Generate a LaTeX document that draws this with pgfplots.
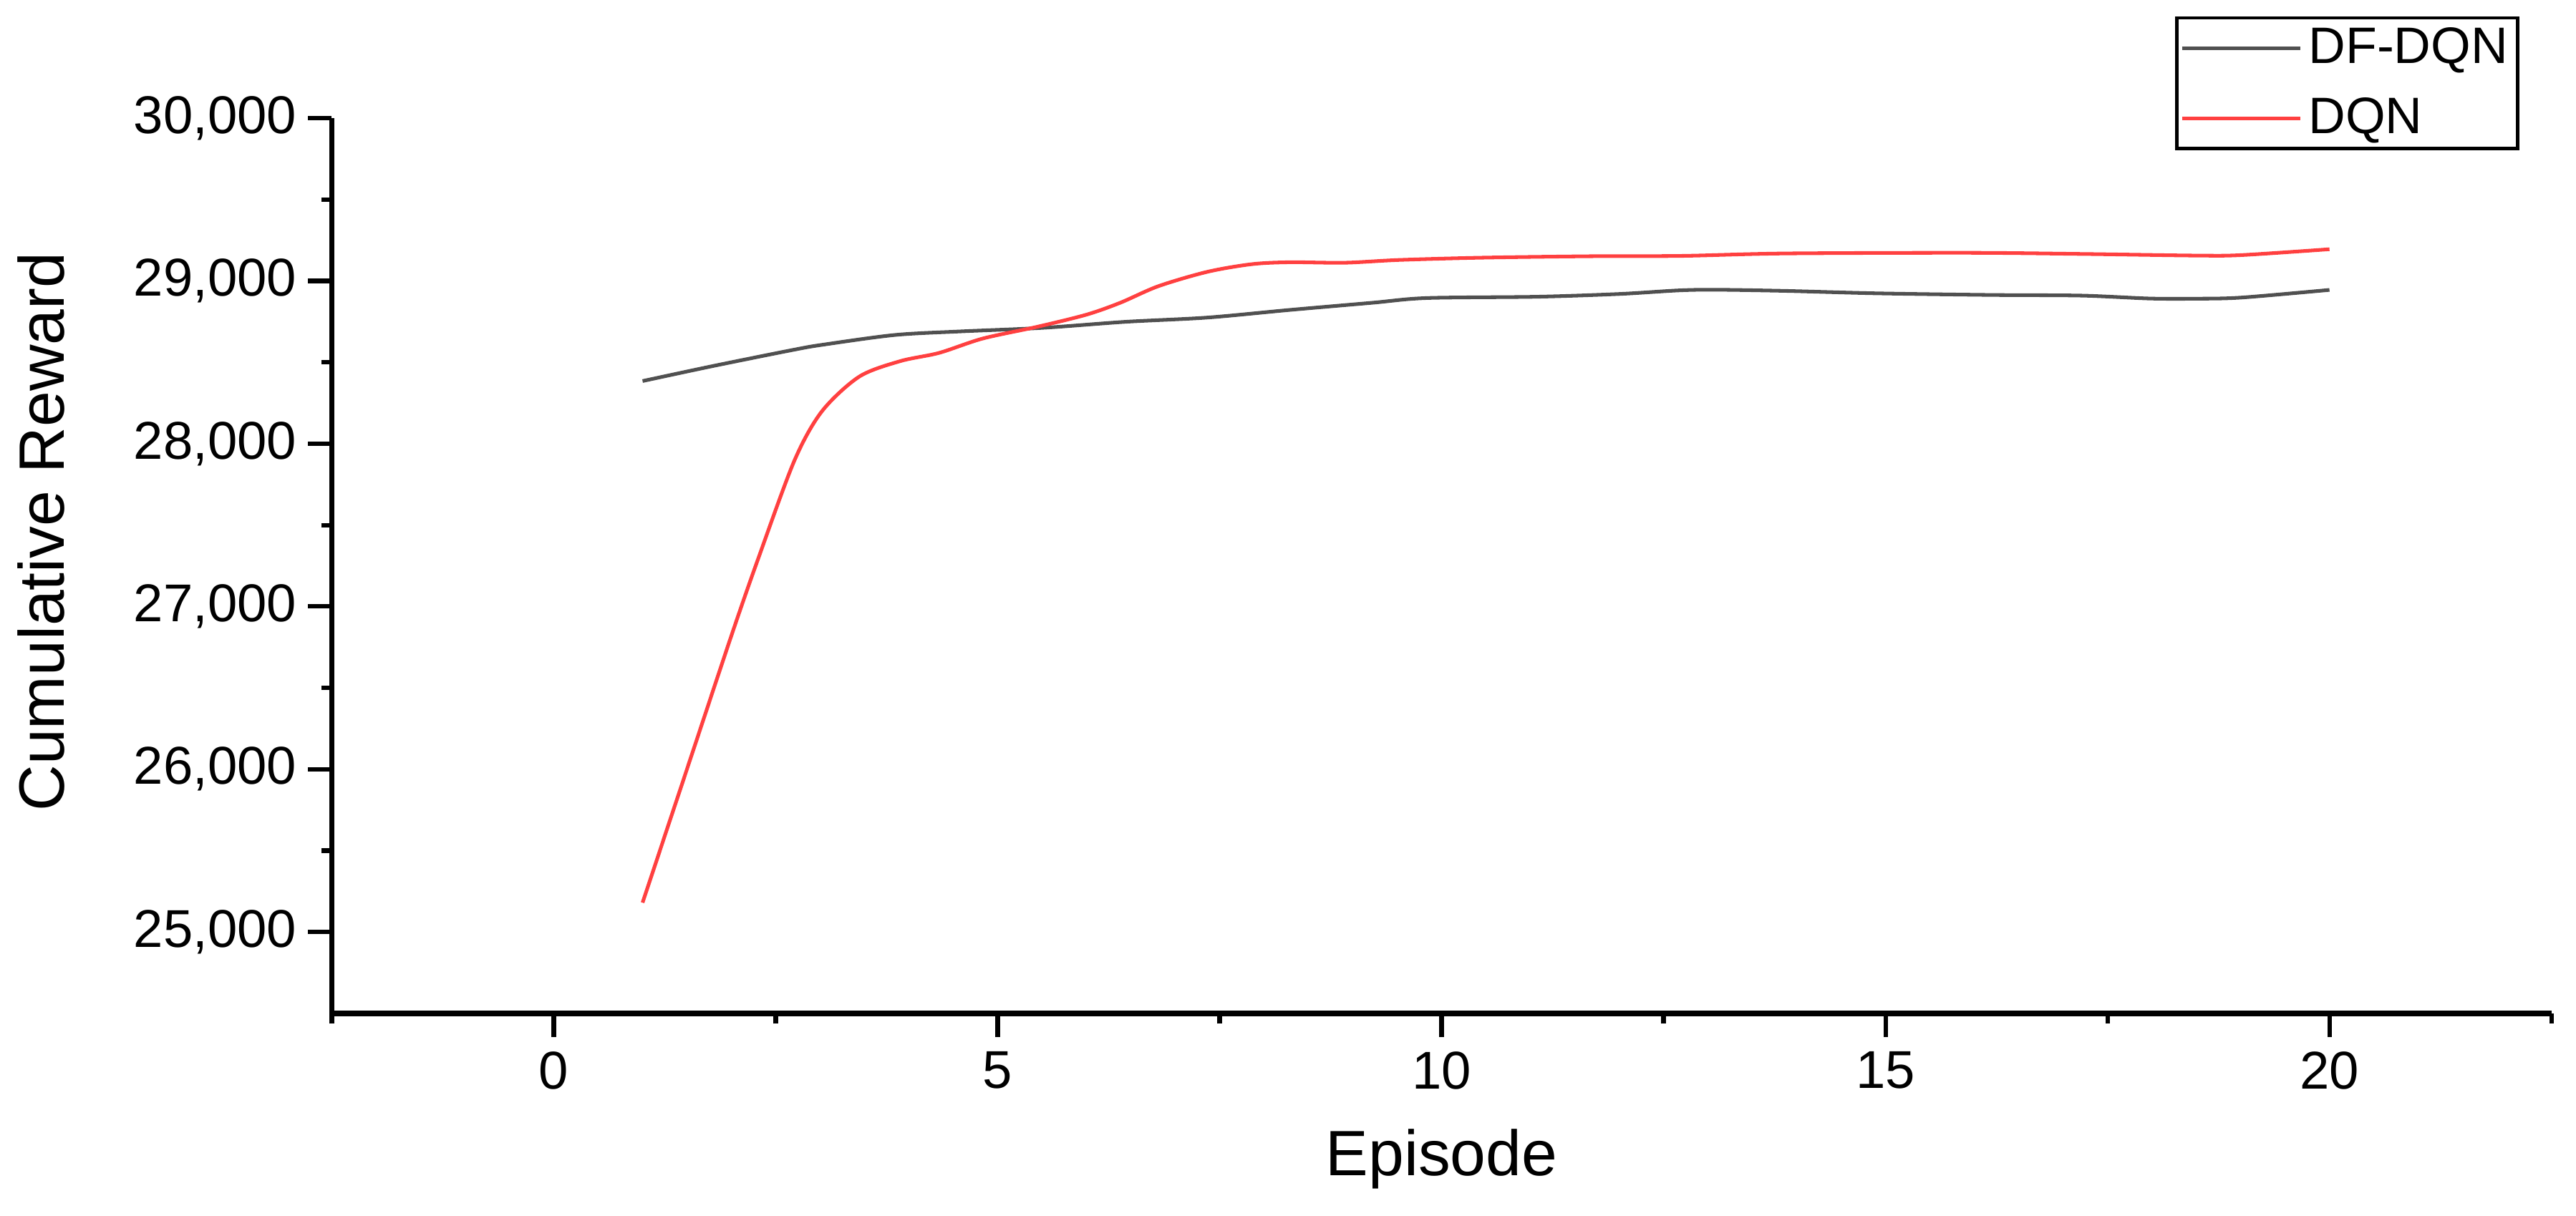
\documentclass[border=0pt]{standalone}
\usepackage{pgfplots}
\pgfplotsset{compat=1.18}
\usepackage{fontspec}
\setmainfont{Liberation Sans}
\definecolor{dfgray}{HTML}{505050}
\definecolor{dqnred}{HTML}{FF4040}
\begin{document}
\begin{tikzpicture}
\begin{axis}[
  scale only axis,
  width=675.5pt, height=272.5pt,
  xmin=-2.5, xmax=22.5, ymin=24500, ymax=30000,
  axis x line*=bottom, axis y line*=left,
  axis line style={line width=1.7pt, -},
  xtick={0,5,10,15,20},
  minor xtick={-2.5,2.5,7.5,12.5,17.5,22.5},
  ytick={25000,26000,27000,28000,29000,30000},
  minor ytick={25500,26500,27500,28500,29500},
  tick align=outside,
  major tick length=7.2pt, minor tick length=3.2pt,
  every tick/.style={black, line width=1.35pt},
  scaled y ticks=false,
  /pgf/number format/assume math mode=true,
  yticklabel={\pgfmathprintnumber[fixed, precision=0, 1000 sep={,}]{\tick}},
  ticklabel style={font=\fontsize{16.2}{19}\selectfont},
  xticklabel style={yshift=-1pt},
  xlabel={Episode}, ylabel={Cumulative Reward},
  label style={font=\fontsize{19.5}{23}\selectfont},
  xlabel style={at={(axis description cs:0.5,-0.163)}, anchor=center},
  ylabel style={at={(axis description cs:-0.131,0.538)}, anchor=center},
  clip=false,
  legend style={at={(rel axis cs:0.9856,1.1138)}, anchor=north east,
    draw=black, line width=1pt, font=\fontsize{15.6}{18}\selectfont,
    inner sep=1pt, row sep=4.9pt, cells={anchor=west}},
  legend image code/.code={\draw[#1] (0pt,0pt) -- (36pt,0pt);},
]
\addplot[dfgray, line width=1.1pt, smooth, tension=0.5] coordinates {
(1,28385) (1.79,28477) (2.71,28578) (3.04,28609) (3.84,28668) (4.58,28690)
(5.51,28712) (6.44,28749) (7.36,28775) (8.29,28822) (9.22,28866) (9.83,28895)
(11.07,28903) (12.0,28920) (12.67,28942) (13.09,28946) (13.87,28939) (14.9,28924)
(16.18,28914) (17.21,28910) (17.98,28892) (18.5,28891) (19.01,28898) (20,28945)};
\addlegendentry{DF-DQN}
\addplot[dqnred, line width=1.1pt, smooth, tension=0.5] coordinates {
(1,25180) (1.5,26000) (2,26820) (2.3,27290) (2.71,27896) (3.02,28199)
(3.44,28412) (3.9,28507) (4.34,28558) (4.83,28646) (5.45,28719) (6,28793)
(6.38,28866) (6.81,28968) (7.36,29056) (7.86,29103) (8.29,29115) (8.91,29112)
(9.52,29129) (10.45,29143) (11.69,29152) (12.7,29154) (13.87,29169) (15.93,29173)
(17.21,29166) (18.5,29156) (19.01,29159) (20,29195)};
\addlegendentry{DQN}
\path (rel axis cs:-0.1495,-0.2257) rectangle (rel axis cs:1.0111,1.1321);
\end{axis}
\end{tikzpicture}
\end{document}
